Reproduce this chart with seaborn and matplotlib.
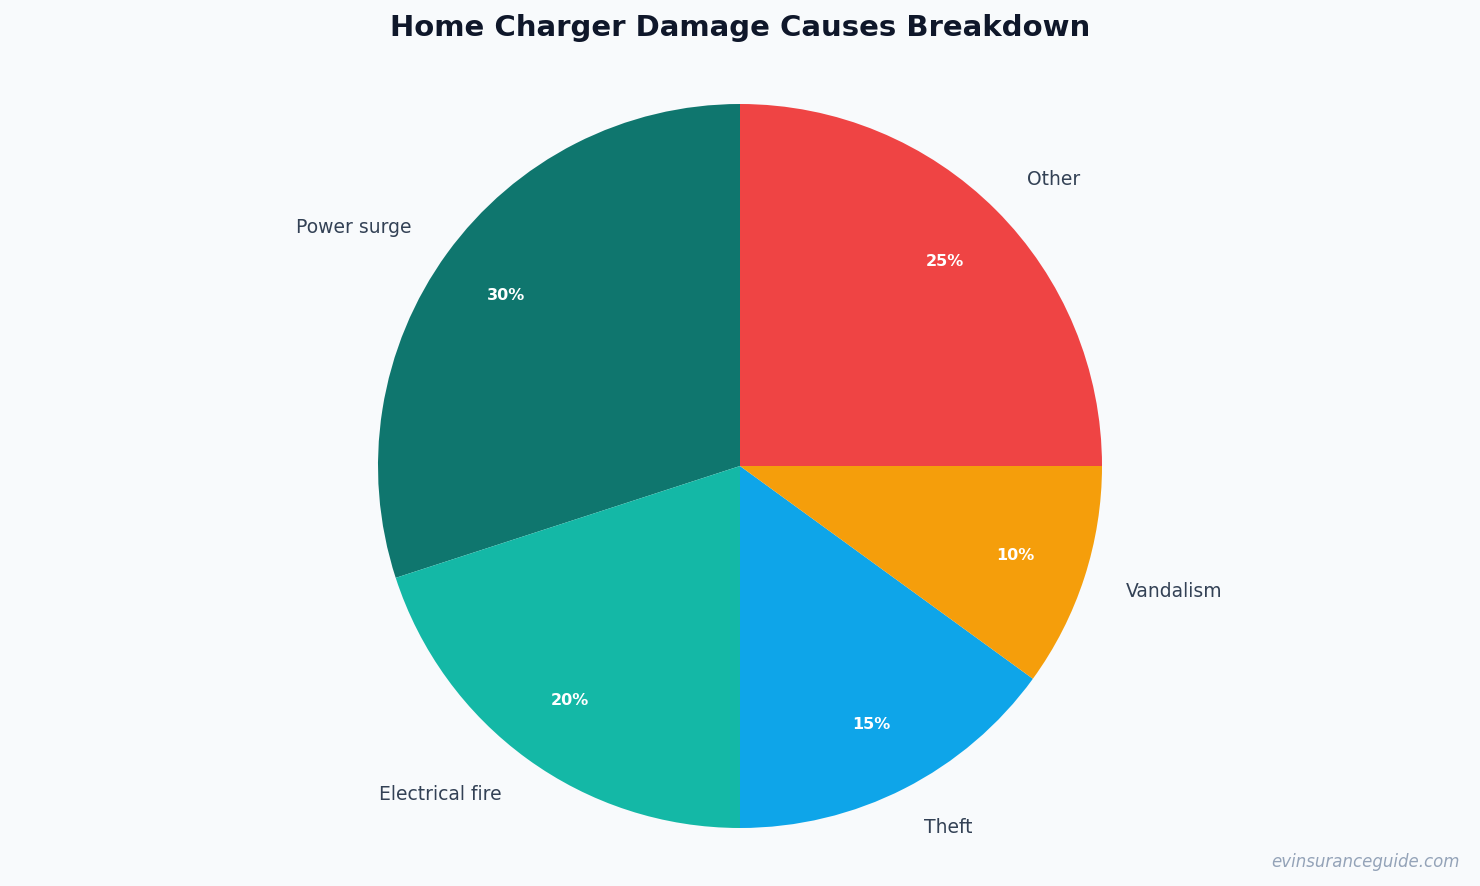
import matplotlib
matplotlib.use("Agg")
import matplotlib.pyplot as plt
import seaborn as sns

# -----------------------------
# Data
# -----------------------------
causes = ["Power surge", "Electrical fire", "Theft", "Vandalism", "Other"]
shares = [30, 20, 15, 10, 25]
colors = ["#0f766e", "#14b8a6", "#0ea5e9", "#f59e0b", "#ef4444"]

sns.set_theme(style="white")
plt.rcParams["font.family"] = ["DejaVu Sans"]

bg = "#f8fafc"
fig = plt.figure(figsize=(14.8, 8.86), dpi=100, facecolor=bg)
ax = fig.add_axes([0, 0, 1, 1])
ax.set_facecolor(bg)

wedges, texts, autotexts = ax.pie(
    shares,
    labels=causes,
    colors=colors,
    startangle=90,
    counterclock=True,
    autopct="%1.0f%%",
    pctdistance=0.8,
    labeldistance=1.12,
    wedgeprops={"linewidth": 0},
    textprops={"fontsize": 13.5, "color": "#334155"},
)
for t in autotexts:
    t.set_color("white")
    t.set_fontweight("bold")
    t.set_fontsize(11.5)

# pie radius 1 -> 362 px, centre at (740, 466) from top-left
r = 362
ax.set_xlim(-740 / r, 740 / r)
ax.set_ylim(-420 / r, 466 / r)
ax.set_aspect("auto")
ax.axis("off")

fig.text(0.5, 1 - 28 / 886, "Home Charger Damage Causes Breakdown",
         ha="center", va="center", fontsize=21, fontweight="bold", color="#0f172a")
fig.text(1 - 20 / 1480, 1 - 862 / 886, "evinsuranceguide.com",
         ha="right", va="center", fontsize=12, style="italic", color="#94a3b8")

fig.savefig("out.png", dpi=100, facecolor=bg)
